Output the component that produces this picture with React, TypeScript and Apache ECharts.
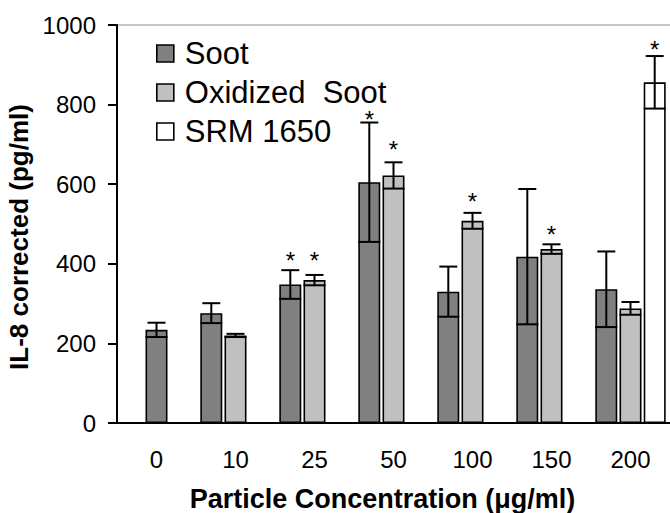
import React, { useEffect, useRef } from "react";
import * as echarts from "echarts";

const categories = ["0", "10", "25", "50", "100", "150", "200"];
// control (0 µg/ml) shown in Soot colour, centred in its category
const controlValue = 234;
const controlErr = 18;
const sootValues = [null, 276, 348, 605, 330, 418, 336];
const sootErr = [null, 25, 36, 150, 63, 170, 95];
// height (in pg/ml) at which a significance asterisk is shown, null = none
const sootStarAt = [null, null, 421, 776, null, null, null];
const oxValues = [null, 220, 359, 622, 508, 437, 288];
const oxErr = [null, 4, 13, 33, 20, 12, 16];
const oxStarAt = [null, null, 422, 701, 570, 485, null];
const srmValues = [null, null, null, null, null, null, 856];
const srmErr = [null, null, null, null, null, null, 66];
const srmStarAt = [null, null, null, null, null, null, 952];
const yTicks = [0, 200, 400, 600, 800, 1000];

const BAR_W = 22;
const BAR_GAP_PX = 2.2;
const FONT = "'Liberation Sans', Arial, sans-serif";
const SOOT_COLOR = "#808080";
const OX_COLOR = "#c0c0c0";
const SRM_COLOR = "#ffffff";

export default function App() {
  const ref = useRef<HTMLDivElement>(null);
  useEffect(() => {
    if (!ref.current) return;
    const chart = echarts.init(ref.current, null, { renderer: "svg" });

    // error-bar records: [catIndex, mean, err, slot, starAt]
    const errData: any[] = [[0, controlValue, controlErr, 1, -1]];
    const add = (vals: any[], errs: any[], star: any[], slot: number) => {
      vals.forEach((v, i) => {
        if (v != null && errs[i] != null) errData.push([i, v, errs[i], slot, star[i] == null ? -1 : star[i]]);
      });
    };
    add(sootValues, sootErr, sootStarAt, 0);
    add(oxValues, oxErr, oxStarAt, 1);
    add(srmValues, srmErr, srmStarAt, 2);

    const barStyle = (c: string) => ({ color: c, borderColor: "#000", borderWidth: 1.6 });
    const oxData: any[] = oxValues.map((v, i) =>
      i === 0 ? { value: controlValue, itemStyle: barStyle(SOOT_COLOR) } : v
    );

    chart.setOption({
      animation: false,
      textStyle: { fontFamily: FONT },
      grid: { left: 117, right: 0, top: 25, bottom: 90, containLabel: false, outerBoundsMode: "none" },
      legend: {
        orient: "vertical",
        left: 156,
        top: 38,
        padding: 0,
        itemWidth: 17,
        itemHeight: 17,
        itemGap: 8,
        icon: "rect",
        textStyle: { fontSize: 31, color: "#000", fontFamily: FONT, lineHeight: 31, padding: [0, 0, 0, 6] },
        data: [
          { name: "Soot", itemStyle: barStyle(SOOT_COLOR) },
          { name: "Oxidized  Soot", itemStyle: barStyle(OX_COLOR) },
          { name: "SRM 1650", itemStyle: barStyle(SRM_COLOR) },
        ],
      },
      xAxis: {
        type: "category",
        data: categories,
        axisLine: { lineStyle: { color: "#000", width: 2 } },
        axisTick: { show: false },
        axisLabel: { fontSize: 24, color: "#000", margin: 24, fontFamily: FONT },
        name: "Particle Concentration (\u03bcg/ml)",
        nameLocation: "middle",
        nameGap: 62,
        nameTextStyle: { fontSize: 27, fontWeight: "bold", color: "#000", fontFamily: FONT, padding: [0, 22, 0, 0] },
      },
      yAxis: {
        type: "value",
        min: yTicks[0],
        max: yTicks[yTicks.length - 1],
        interval: yTicks[1] - yTicks[0],
        axisLine: { show: true, lineStyle: { color: "#000", width: 2 } },
        axisTick: { show: true, length: 9, lineStyle: { color: "#000", width: 2 } },
        axisLabel: { fontSize: 24, color: "#000", margin: 21, fontFamily: FONT, formatter: (v: number) => String(v) },
        splitLine: {
          show: true,
          lineStyle: { color: ["transparent", "transparent", "transparent", "transparent", "transparent", "#c8c8c8"], width: 2 },
        },
        name: "IL-8 corrected (pg/ml)",
        nameLocation: "middle",
        nameGap: 83,
        nameTextStyle: { fontSize: 26, fontWeight: "bold", color: "#000", fontFamily: FONT, padding: [0, 26, 0, 0] },
      },
      series: [
        {
          name: "Soot",
          type: "bar",
          data: sootValues,
          barWidth: BAR_W,
          barGap: (BAR_GAP_PX / BAR_W) * 100 + "%",
          itemStyle: barStyle(SOOT_COLOR),
        },
        {
          name: "Oxidized  Soot",
          type: "bar",
          data: oxData,
          barWidth: BAR_W,
          barGap: (BAR_GAP_PX / BAR_W) * 100 + "%",
          itemStyle: barStyle(OX_COLOR),
        },
        {
          name: "SRM 1650",
          type: "bar",
          data: srmValues,
          barWidth: BAR_W,
          barGap: (BAR_GAP_PX / BAR_W) * 100 + "%",
          itemStyle: barStyle(SRM_COLOR),
        },
        {
          name: "errors",
          type: "custom",
          z: 5,
          data: errData,
          renderItem: (params: any, api: any) => {
            const cat = api.value(0);
            const mean = api.value(1);
            const err = api.value(2);
            const slot = api.value(3);
            const starAt = api.value(4);
            const cx = api.coord([cat, mean])[0] + (slot - 1) * (BAR_W + BAR_GAP_PX);
            const yTop = api.coord([cat, mean + err])[1];
            const yBot = api.coord([cat, mean - err])[1];
            const ls = { stroke: "#000", lineWidth: 2 };
            const children: any[] = [
              { type: "line", shape: { x1: cx, y1: yBot, x2: cx, y2: yTop }, style: ls },
              { type: "line", shape: { x1: cx - 9, y1: yTop, x2: cx + 9, y2: yTop }, style: ls },
              { type: "line", shape: { x1: cx - BAR_W / 2, y1: yBot, x2: cx + BAR_W / 2, y2: yBot }, style: ls },
            ];
            if (starAt >= 0) {
              const ys = api.coord([cat, starAt])[1];
              children.push({
                type: "text",
                style: {
                  text: "*",
                  x: cx,
                  y: ys + 5,
                  align: "center",
                  verticalAlign: "middle",
                  fontSize: 24,
                  lineHeight: 12,
                  fontFamily: FONT,
                  fill: "#000",
                },
              });
            }
            return { type: "group", children };
          },
        },
      ],
    });
    return () => chart.dispose();
  }, []);
  return <div ref={ref} style={{ position: "absolute", left: 0, top: 0, width: 670, height: 513 }} />;
}
